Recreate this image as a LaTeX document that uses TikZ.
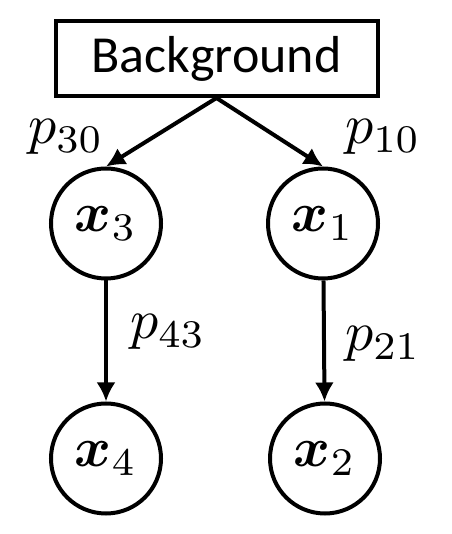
\documentclass[tikz,border=0pt]{standalone}
\usepackage{amsmath}
\usepackage{bm}
\usepackage{graphicx}
\usepackage{fontspec}
\setmainfont{Carlito}
\usetikzlibrary{arrows.meta}
\newcommand{\varlab}[1]{\scalebox{5.6}{$#1$}}
\begin{document}
\begin{tikzpicture}[x=1pt,y=1pt,line width=4pt,
  >={Latex[length=19pt,width=19pt]},
  var/.style={draw,circle,minimum size=110pt,inner sep=0pt},
  lab/.style={inner sep=0pt}]
\useasboundingbox (0,0) rectangle (451,534);
\node[draw,rectangle,minimum width=322pt,minimum height=75pt,inner sep=0pt,font=\fontsize{52}{60}\selectfont] (B) at (216.5,475.5){Background};
\node[var] (X3) at (106,310.5){\varlab{\bm{x}_3}};
\node[var] (X1) at (323,310.5){\varlab{\bm{x}_1}};
\node[var] (X4) at (106,75.5){\varlab{\bm{x}_4}};
\node[var] (X2) at (325,75.5){\varlab{\bm{x}_2}};
\node[lab] (P30) at (66,397){\varlab{p_{30}}};
\node[lab] (P10) at (383,397){\varlab{p_{10}}};
\node[lab] (P43) at (168,202){\varlab{p_{43}}};
\node[lab] (P21) at (383,190){\varlab{p_{21}}};
\draw[->] (B.south) -- (X3.north);
\draw[->] (B.south) -- (X1.north);
\draw[->] (X3) -- (X4);
\draw[->] (X1) -- (X2);
\end{tikzpicture}
\end{document}
